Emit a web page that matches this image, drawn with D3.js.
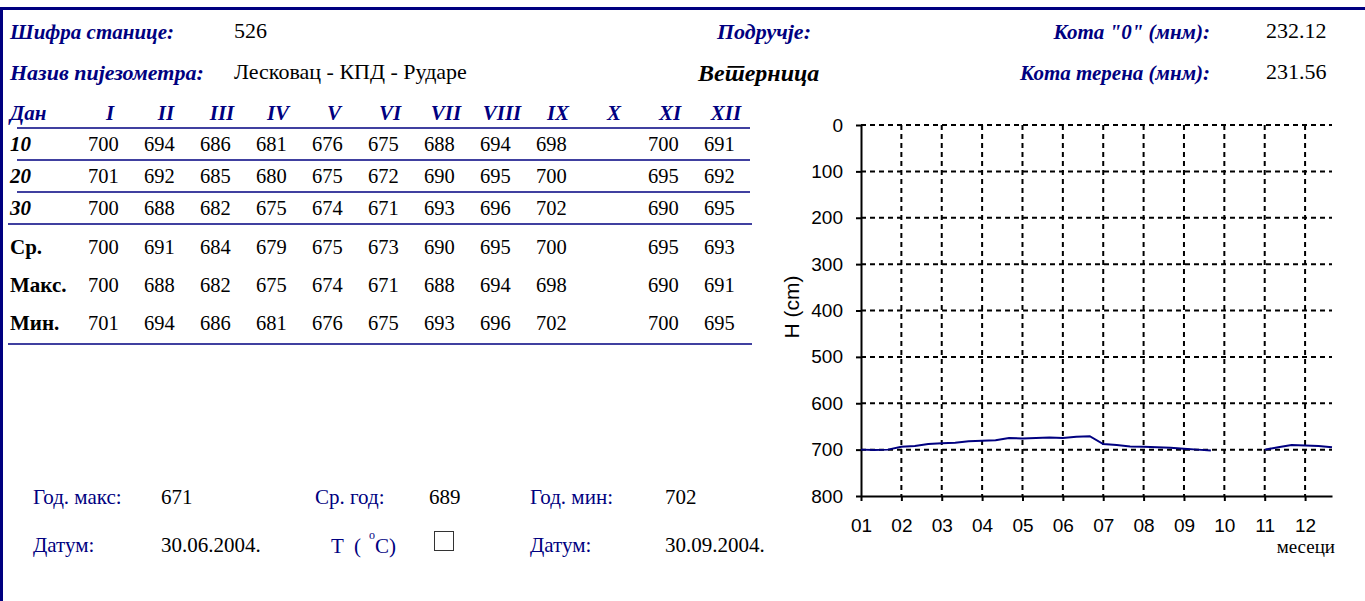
<!DOCTYPE html>
<html><head><meta charset="utf-8">
<script src="https://cdn.jsdelivr.net/npm/d3@7/dist/d3.min.js"></script>
<style>
html,body{margin:0;padding:0;background:#fff;}
svg{display:block;}
text{font-family:"Liberation Serif","Times New Roman",serif;}
.lbl{fill:#000080;font-weight:bold;font-style:italic;}
.axis text{font-family:"Liberation Sans",Arial,sans-serif;font-size:19px;fill:#000;}
</style>
</head><body>
<svg id="c" width="1365" height="601"></svg>
<script>
// ---------- data ----------
const stationCode = "526";
const piezometerName = "Лесковац - КПД - Рударе";
const area = "Ветерница";
const zeroElevation = "232.12";
const groundElevation = "231.56";
const monthsRoman = ["I","II","III","IV","V","VI","VII","VIII","IX","X","XI","XII"];
const monthTicks = ["01","02","03","04","05","06","07","08","09","10","11","12"];
const day10 = [700,694,686,681,676,675,688,694,698,null,700,691];
const day20 = [701,692,685,680,675,672,690,695,700,null,695,692];
const day30 = [700,688,682,675,674,671,693,696,702,null,690,695];
const avgRow = [700,691,684,679,675,673,690,695,700,null,695,693];
const maxRow = [700,688,682,675,674,671,688,694,698,null,690,691];
const minRow = [701,694,686,681,676,675,693,696,702,null,700,695];
const yTicks = [0,100,200,300,400,500,600,700,800];
const yearMax = "671", yearAvg = "689", yearMin = "702";
const dateMax = "30.06.2004.", dateMin = "30.09.2004.";

// ---------- drawing ----------
const NAVY = "#000080";
const svg = d3.select("#c");
svg.append("rect").attr("width",1365).attr("height",601).attr("fill","#fff");
// frame
svg.append("path").attr("d","M0,8.5H1365M1.5,8V601").attr("stroke",NAVY).attr("stroke-width",3).attr("fill","none");

function txt(x,y,s,opt){
  opt = opt||{};
  const t = svg.append("text").attr("x",x).attr("y",y).text(s)
    .style("font-size",(opt.size||18)+"px")
    .attr("fill",opt.fill||"#000");
  if(opt.cls) t.attr("class",opt.cls);
  if(opt.anchor) t.attr("text-anchor",opt.anchor);
  if(opt.weight) t.style("font-weight",opt.weight);
  if(opt.italic) t.style("font-style","italic");
  if(opt.lang) t.attr("lang",opt.lang);
  return t;
}
// header
const HL = 21, HV = 22;
txt(10,39,"Шифра станице:",{cls:"lbl",size:HL});
txt(234,38,stationCode,{size:HV});
txt(717,39,"Подручје:",{cls:"lbl",size:HL+1});
txt(1210,39,"Кота \"0\" (мнм):",{cls:"lbl",anchor:"end",size:HL});
txt(1266,38,zeroElevation,{size:HV});
txt(10,80,"Назив пијезометра:",{cls:"lbl",size:HL+1});
txt(234,79,piezometerName,{size:HV});
txt(698,81,area,{size:24,weight:"bold",italic:true,lang:"sr"});
txt(1210,80,"Кота терена (мнм):",{cls:"lbl",anchor:"end",size:HL});
txt(1266,79,groundElevation,{size:HV});

// table
const colX = d3.scaleLinear().domain([0,11]).range([88,88+56*11]);
txt(10,120,"Дан",{cls:"lbl",size:21});
monthsRoman.forEach((m,i)=>txt(colX(i)+22,120,m,{cls:"lbl",anchor:"middle",size:21}));
const rows = [
  {label:"10",vals:day10,y:151,italic:true},
  {label:"20",vals:day20,y:183,italic:true},
  {label:"30",vals:day30,y:215,italic:true},
  {label:"Ср.",vals:avgRow,y:254},
  {label:"Макс.",vals:maxRow,y:292},
  {label:"Мин.",vals:minRow,y:330}
];
rows.forEach(r=>{
  txt(10,r.y,r.label,{size:21,weight:"bold",italic:r.italic});
  r.vals.forEach((v,i)=>{ if(v!=null) txt(colX(i),r.y,String(v),{size:20.5}); });
});
[[128,17,750],[160,17,750],[192,17,750],[224,8,752],[344,8,752]].forEach(l=>{
  svg.append("line").attr("x1",l[1]).attr("x2",l[2]).attr("y1",l[0]).attr("y2",l[0])
    .attr("stroke",NAVY).attr("stroke-width",1.3);
});

// bottom
const BS = 21;
txt(33,504,"Год. макс:",{fill:NAVY,size:BS});
txt(161,504,yearMax,{size:BS});
txt(315,504,"Ср. год:",{fill:NAVY,size:BS});
txt(429,504,yearAvg,{size:BS});
txt(530,504,"Год. мин:",{fill:NAVY,size:BS});
txt(665,504,yearMin,{size:BS});
txt(33,552,"Датум:",{fill:NAVY,size:BS});
txt(161,552,dateMax,{size:BS});
const tc = txt(331,553,"",{fill:NAVY,size:BS});
tc.append("tspan").text("Т");
tc.append("tspan").attr("x",354).text("(");
tc.append("tspan").attr("x",369).attr("dy",-14).style("font-size","12px").text("o");
tc.append("tspan").attr("x",375).attr("dy",14).text("C)");
svg.append("rect").attr("x",434.5).attr("y",531.5).attr("width",19).attr("height",19)
  .attr("fill","none").attr("stroke","#333").attr("stroke-width",1);
txt(530,552,"Датум:",{fill:NAVY,size:BS});
txt(665,552,dateMin,{size:BS});

// chart
const series = [];
for(let m=0;m<12;m++){ series.push(day10[m],day20[m],day30[m]); }
const x = d3.scaleLinear().domain([0,series.length-1]).range([861,1332]);
const y = d3.scaleLinear().domain([0,800]).range([125,496]);
const g = svg.append("g");
const xTickVals = monthTicks.map((_,i)=>i*3);
// grid
g.selectAll(".hg").data(yTicks.filter(v=>v<800)).join("line")
  .attr("x1",x(0)).attr("x2",x(series.length-1)).attr("y1",d=>y(d)).attr("y2",d=>y(d))
  .attr("stroke","#000").attr("stroke-width",2).attr("stroke-dasharray","5,4");
g.selectAll(".vg").data(xTickVals.slice(1)).join("line")
  .attr("x1",d=>x(d)).attr("x2",d=>x(d)).attr("y1",y(0)).attr("y2",y(800))
  .attr("stroke","#000").attr("stroke-width",2).attr("stroke-dasharray","5,4");
// axes
g.append("g").attr("class","axis").attr("transform",`translate(${x(0)},0)`)
  .call(d3.axisLeft(y).tickValues(yTicks).tickSize(5).tickSizeOuter(0).tickPadding(13));
g.append("g").attr("class","axis").attr("transform",`translate(0,${y(800)})`)
  .call(d3.axisBottom(x).tickValues(xTickVals).tickFormat((d,i)=>monthTicks[i]).tickSize(5).tickSizeOuter(0).tickPadding(18));
g.selectAll(".axis path, .axis line").attr("stroke","#000").attr("stroke-width",2);
// line
g.append("path").datum(series)
  .attr("d",d3.line().defined(d=>d!=null).x((d,i)=>x(i)).y(d=>y(d)))
  .attr("fill","none").attr("stroke",NAVY).attr("stroke-width",2);
// labels
txt(1335,553,"месеци",{size:19,anchor:"end"});
svg.append("text").attr("transform","translate(799,307) rotate(-90)").attr("text-anchor","middle")
  .style("font-family","'Liberation Sans',Arial,sans-serif").style("font-size","21px").text("H (cm)");
</script>
</body></html>
